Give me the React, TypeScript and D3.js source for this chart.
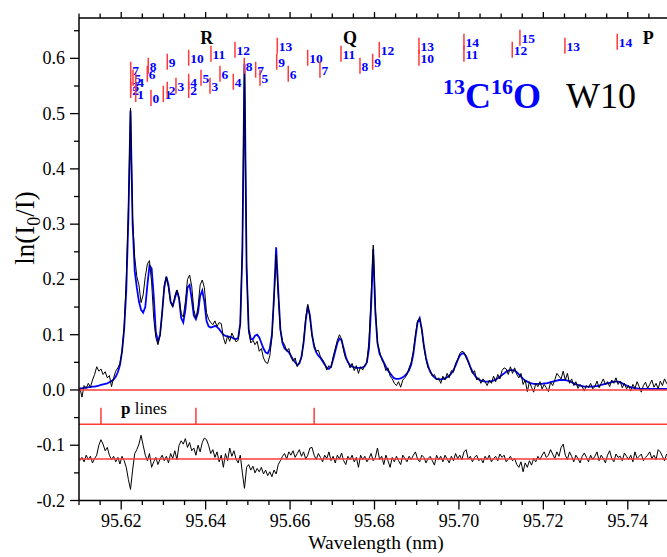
import React from 'react';
import * as d3 from 'd3';

// sample grid of the spectra (nm)
const gridStart = 95.6102;
const gridStep = 0.0005;

// measured absorbance ln(I0/I)
const observed = [
  0.004, -0.013, 0.008, 0.003, 0.012, 0.005, 0.018, 0.028, 0.042, 0.034,
  0.038, 0.028, 0.033, 0.022, 0.026, 0.006, 0.022, 0.034, 0.040, 0.048,
  0.07, 0.115, 0.20, 0.33, 0.51, 0.31, 0.24, 0.205, 0.19, 0.158,
  0.172, 0.205, 0.228, 0.234, 0.195, 0.13, 0.095, 0.082, 0.098, 0.14,
  0.19, 0.205, 0.185, 0.158, 0.15, 0.17, 0.181, 0.168, 0.138, 0.132,
  0.16, 0.2, 0.208, 0.188, 0.145, 0.13, 0.15, 0.19, 0.199, 0.185,
  0.14, 0.128, 0.122, 0.118, 0.125, 0.115, 0.122, 0.12, 0.095, 0.083,
  0.098, 0.088, 0.103, 0.095, 0.087, 0.09, 0.12, 0.26, 0.595, 0.23,
  0.105, 0.085, 0.09, 0.082, 0.088, 0.07, 0.075, 0.058, 0.05, 0.048,
  0.062, 0.095, 0.165, 0.245, 0.17, 0.108, 0.088, 0.082, 0.07, 0.075,
  0.06, 0.052, 0.058, 0.042, 0.05, 0.058, 0.088, 0.13, 0.155, 0.13,
  0.098, 0.082, 0.07, 0.072, 0.06, 0.055, 0.048, 0.036, 0.044, 0.04,
  0.06, 0.075, 0.09, 0.1, 0.092, 0.07, 0.056, 0.052, 0.04, 0.048,
  0.035, 0.044, 0.03, 0.042, 0.036, 0.045, 0.05, 0.09, 0.17, 0.262,
  0.15, 0.085, 0.07, 0.055, 0.048, 0.035, 0.04, 0.025, 0.02, 0.012,
  0.008, 0.015, 0.005, 0.018, 0.022, 0.028, 0.04, 0.05, 0.07, 0.1,
  0.125, 0.13, 0.108, 0.078, 0.055, 0.04, 0.035, 0.025, 0.028, 0.018,
  0.022, 0.012, 0.025, 0.018, 0.03, 0.022, 0.035, 0.032, 0.048, 0.055,
  0.066, 0.07, 0.068, 0.058, 0.05, 0.04, 0.03, 0.035, 0.018, 0.022,
  0.012, 0.02, 0.015, 0.008, 0.018, 0.012, 0.025, 0.015, 0.028, 0.02,
  0.035, 0.04, 0.038, 0.028, 0.042, 0.03, 0.04, 0.028, 0.022, 0.03,
  0.01, 0.018, -0.003, 0.015, 0.005, -0.004, 0.012, 0.006, 0.015, 0.002,
  0.01, 0.004, -0.003, 0.014, 0.008, 0.018, 0.03, 0.025, 0.02, 0.034,
  0.018, 0.03, 0.012, 0.02, 0.008, 0.015, 0.003, 0.01, 0.006, -0.002,
  0.008, 0.004, 0.012, 0.002, 0.006, 0.016, 0.004, 0.012, 0.02, 0.01,
  0.015, 0.006, 0.018, 0.012, 0.022, 0.01, 0.016, 0.004, 0.012, 0.002,
  0.008, -0.002, 0.01, 0.003, 0.015, 0.006, -0.004, 0.008, 0.014, 0.003,
  0.01, 0.018, 0.005, 0.012, 0.002, 0.016, 0.008, 0.02, 0.012, 0.006,
];

// simulated (fitted) spectrum
const fitted = [
  0.003, 0.003, 0.004, 0.004, 0.005, 0.005, 0.006, 0.006, 0.007, 0.008,
  0.009, 0.010, 0.011, 0.012, 0.014, 0.016, 0.019, 0.024, 0.032, 0.045,
  0.07, 0.11, 0.18, 0.31, 0.505, 0.30, 0.215, 0.185, 0.16, 0.145,
  0.14, 0.15, 0.19, 0.225, 0.22, 0.17, 0.105, 0.088, 0.10, 0.14,
  0.185, 0.205, 0.19, 0.16, 0.152, 0.165, 0.18, 0.165, 0.13, 0.122,
  0.145, 0.185, 0.19, 0.165, 0.135, 0.128, 0.14, 0.17, 0.18, 0.16,
  0.125, 0.115, 0.113, 0.114, 0.116, 0.114, 0.11, 0.105, 0.10, 0.098,
  0.097, 0.096, 0.095, 0.093, 0.092, 0.094, 0.12, 0.25, 0.59, 0.22,
  0.11, 0.092, 0.092, 0.098, 0.10, 0.095, 0.085, 0.075, 0.068, 0.066,
  0.075, 0.10, 0.17, 0.258, 0.18, 0.11, 0.085, 0.075, 0.072, 0.068,
  0.062, 0.055, 0.05, 0.045, 0.048, 0.06, 0.085, 0.125, 0.152, 0.135,
  0.10, 0.078, 0.068, 0.062, 0.058, 0.052, 0.046, 0.04, 0.038, 0.042,
  0.055, 0.07, 0.085, 0.093, 0.09, 0.075, 0.06, 0.05, 0.045, 0.042,
  0.041, 0.04, 0.04, 0.04, 0.041, 0.043, 0.05, 0.075, 0.15, 0.255,
  0.14, 0.085, 0.065, 0.058, 0.05, 0.042, 0.035, 0.03, 0.025, 0.021,
  0.02, 0.02, 0.021, 0.023, 0.026, 0.03, 0.036, 0.046, 0.065, 0.095,
  0.122, 0.13, 0.11, 0.08, 0.058, 0.043, 0.033, 0.027, 0.023, 0.02,
  0.019, 0.019, 0.02, 0.021, 0.023, 0.026, 0.03, 0.036, 0.044, 0.054,
  0.062, 0.066, 0.066, 0.061, 0.052, 0.042, 0.033, 0.027, 0.022, 0.019,
  0.017, 0.016, 0.015, 0.015, 0.015, 0.016, 0.017, 0.019, 0.021, 0.024,
  0.027, 0.03, 0.033, 0.035, 0.036, 0.036, 0.035, 0.032, 0.028, 0.024,
  0.02, 0.017, 0.015, 0.013, 0.012, 0.011, 0.011, 0.011, 0.011, 0.011,
  0.012, 0.012, 0.013, 0.014, 0.015, 0.016, 0.017, 0.018, 0.018, 0.018,
  0.018, 0.017, 0.016, 0.014, 0.012, 0.01, 0.009, 0.008, 0.007, 0.006,
  0.006, 0.006, 0.006, 0.006, 0.007, 0.007, 0.008, 0.009, 0.01, 0.011,
  0.012, 0.013, 0.014, 0.015, 0.015, 0.015, 0.014, 0.012, 0.01, 0.008,
  0.006, 0.005, 0.004, 0.003, 0.003, 0.002, 0.002, 0.002, 0.002, 0.002,
  0.002, 0.002, 0.002, 0.002, 0.002, 0.002, 0.002, 0.002, 0.002, 0.002,
];

// residual (observed - fitted), plotted with its offset
const residual = [
  -0.128, -0.122, -0.13, -0.118, -0.126, -0.12, -0.132, -0.124, -0.118, -0.1,
  -0.09, -0.098, -0.11, -0.104, -0.118, -0.126, -0.12, -0.13, -0.122, -0.134,
  -0.12, -0.128, -0.14, -0.162, -0.18, -0.145, -0.115, -0.108, -0.098, -0.082,
  -0.1, -0.118, -0.128, -0.115, -0.14, -0.13, -0.122, -0.135, -0.125, -0.118,
  -0.128, -0.12, -0.132, -0.115, -0.124, -0.11, -0.126, -0.1, -0.092, -0.098,
  -0.088, -0.104, -0.095, -0.11, -0.105, -0.118, -0.1, -0.112, -0.095, -0.087,
  -0.09, -0.1, -0.115, -0.108, -0.122, -0.112, -0.13, -0.118, -0.14, -0.115,
  -0.128, -0.105, -0.12, -0.11, -0.125, -0.132, -0.118, -0.15, -0.178, -0.14,
  -0.135, -0.145, -0.138, -0.15, -0.142, -0.148, -0.14, -0.152, -0.145, -0.155,
  -0.148, -0.157, -0.145, -0.152, -0.135, -0.128, -0.12, -0.115, -0.125, -0.112,
  -0.118, -0.11, -0.122, -0.115, -0.108, -0.12, -0.112, -0.125, -0.118, -0.105,
  -0.104, -0.118, -0.126, -0.115, -0.122, -0.13, -0.118, -0.124, -0.112, -0.128,
  -0.12, -0.132, -0.118, -0.125, -0.114, -0.128, -0.135, -0.12, -0.126, -0.118,
  -0.13, -0.122, -0.14, -0.118, -0.126, -0.12, -0.13, -0.124, -0.115, -0.128,
  -0.122, -0.105, -0.126, -0.12, -0.135, -0.118, -0.128, -0.14, -0.122, -0.13,
  -0.12, -0.128, -0.135, -0.118, -0.124, -0.13, -0.12, -0.126, -0.118, -0.112,
  -0.125, -0.13, -0.118, -0.122, -0.132, -0.124, -0.12, -0.128, -0.136, -0.118,
  -0.126, -0.12, -0.13, -0.118, -0.125, -0.132, -0.12, -0.128, -0.115, -0.124,
  -0.118, -0.126, -0.112, -0.108, -0.125, -0.12, -0.13, -0.122, -0.118, -0.128,
  -0.124, -0.132, -0.12, -0.126, -0.118, -0.13, -0.124, -0.12, -0.128, -0.116,
  -0.122, -0.118, -0.13, -0.125, -0.12, -0.128, -0.124, -0.135, -0.14, -0.13,
  -0.148, -0.132, -0.14, -0.128, -0.136, -0.124, -0.13, -0.12, -0.126, -0.118,
  -0.112, -0.122, -0.118, -0.108, -0.116, -0.124, -0.112, -0.12, -0.104, -0.098,
  -0.118, -0.126, -0.112, -0.12, -0.13, -0.118, -0.124, -0.132, -0.12, -0.114,
  -0.122, -0.13, -0.118, -0.126, -0.12, -0.112, -0.128, -0.118, -0.124, -0.132,
  -0.118, -0.11, -0.124, -0.13, -0.116, -0.122, -0.12, -0.128, -0.114, -0.12,
  -0.126, -0.118, -0.13, -0.112, -0.124, -0.12, -0.116, -0.128, -0.122, -0.118,
  -0.112, -0.124, -0.118, -0.126, -0.108, -0.112, -0.12, -0.128, -0.116, -0.122,
];

// reference baselines
const zeroLevel = 0.0;
const pLineLevel = -0.062;
const residualLevel = -0.125;

// perturbing p lines (nm)
const pLineWl = [95.6152, 95.6377, 95.6657];

// rotational line assignments: wavelength (nm) and J
const assignWl = [
  95.62225, 95.62225, 95.62225, 95.62279, 95.62343, 95.62343, 95.62641, 95.62618, 95.62705,
  95.62997, 95.63091, 95.63091, 95.63297, 95.63598, 95.63598, 95.63598, 95.6389, 95.64126,
  95.64103, 95.6434, 95.64655, 95.64695, 95.64915, 95.65185, 95.65287, 95.65697, 95.65683,
  95.65957, 95.66417, 95.66708, 95.67206, 95.67656, 95.67956, 95.68113, 95.69053, 95.69053,
  95.70119, 95.70119, 95.71263, 95.71445, 95.72511, 95.7375,
];
const assignJ = [
  7, 3, 2, 5, 4, 1, 8, 6, 0,
  1, 9, 2, 3, 10, 4, 2, 5, 11,
  3, 6, 4, 12, 8, 7, 5, 13, 9,
  6, 10, 7, 11, 8, 9, 12, 13, 10,
  14, 11, 12, 15, 13, 14,
];

const branchNames = ['R', 'Q', 'P'];
const branchWl = [95.64025, 95.67419, 95.74484];

const xTickLabels = ['95.62', '95.64', '95.66', '95.68', '95.70', '95.72', '95.74'];
const yTickLabels = ['-0.2', '-0.1', '0.0', '0.1', '0.2', '0.3', '0.4', '0.5', '0.6'];

const SERIF = "'Liberation Serif', 'Times New Roman', serif";
const RED = '#ff3a3a';
const BLUE = '#0000ff';

export default function App() {
  const W = 667;
  const H = 557;
  const left = 79;
  const top = 18;
  const bottom = 500.5;
  const x = d3.scaleLinear().domain([95.61, 95.75]).range([left, 670]);
  const y = d3.scaleLinear().domain([-0.2, 0.673]).range([bottom, top]);
  const wl = (i: number) => gridStart + gridStep * i;

  const lineGen = d3
    .line<number>()
    .x((_, i) => x(wl(i)))
    .y((d) => y(d));

  const xMinor = d3.range(0, 29).map((k) => 95.61 + k * 0.005);
  const yMinor = d3.range(0, 18).map((k) => -0.2 + k * 0.05);

  // label centre height for a given J (layout only)
  const jCentre = (j: number) => 0.5285 + 0.00724 * j;

  return (
    <svg
      width={W}
      height={H}
      style={{ position: 'absolute', left: 0, top: 0, background: '#fff' }}
      fontFamily={SERIF}
    >
      <defs>
        <clipPath id="plotClip">
          <rect x={left} y={top} width={W - left} height={bottom - top} />
        </clipPath>
      </defs>

      <g clipPath="url(#plotClip)">
        <path d={lineGen(fitted) || ''} fill="none" stroke={BLUE} strokeWidth={1.8} />
        <path d={lineGen(observed) || ''} fill="none" stroke="#000" strokeWidth={1} />
        <path d={lineGen(residual) || ''} fill="none" stroke="#000" strokeWidth={1} />

        {[zeroLevel, pLineLevel, residualLevel].map((v, k) => (
          <line key={k} x1={left} x2={W} y1={y(v)} y2={y(v)} stroke={RED} strokeWidth={1.5} />
        ))}
        {pLineWl.map((w, k) => (
          <line
            key={k}
            x1={x(w)}
            x2={x(w)}
            y1={y(pLineLevel)}
            y2={y(pLineLevel + 0.03)}
            stroke={RED}
            strokeWidth={1.5}
          />
        ))}

        {assignWl.map((w, k) => {
          const c = jCentre(assignJ[k]);
          return (
            <g key={k}>
              <line
                x1={x(w)}
                x2={x(w)}
                y1={y(c - 0.0145)}
                y2={y(c + 0.0145)}
                stroke={RED}
                strokeWidth={1.5}
              />
              <text
                x={x(w) + 1.5}
                y={y(c) + 5}
                fontSize={13.5}
                fontWeight="bold"
                fill={BLUE}
              >
                {assignJ[k]}
              </text>
            </g>
          );
        })}
      </g>

      {branchNames.map((b, k) => (
        <text
          key={b}
          x={x(branchWl[k])}
          y={43.5}
          fontSize={18}
          fontWeight="bold"
          textAnchor="middle"
          fill="#000"
        >
          {b}
        </text>
      ))}

      <text x={443} y={108} fill={BLUE} fontWeight="bold" fontSize={36}>
        <tspan fontSize={22} dy={-14}>13</tspan>
        <tspan dy={14}>C</tspan>
        <tspan fontSize={22} dy={-14}>16</tspan>
        <tspan dy={14}>O</tspan>
      </text>
      <text x={566} y={108} fill="#000" fontSize={36}>
        W10
      </text>

      <text x={121} y={414} fontSize={17} fill="#000">
        <tspan fontWeight="bold">p</tspan>
        <tspan> lines</tspan>
      </text>

      <line x1={left} x2={left} y1={top} y2={bottom} stroke="#000" strokeWidth={1.5} />
      <line x1={left} x2={W} y1={bottom} y2={bottom} stroke="#000" strokeWidth={1.5} />
      <line x1={left} x2={W} y1={top} y2={top} stroke="#000" strokeWidth={1.5} />

      {xMinor.map((v, k) => {
        const major = k % 4 === 2;
        return (
          <g key={k}>
            <line
              x1={x(v)}
              x2={x(v)}
              y1={bottom}
              y2={bottom + (major ? 9 : 4.5)}
              stroke="#000"
              strokeWidth={1.3}
            />
            <line
              x1={x(v)}
              x2={x(v)}
              y1={top}
              y2={top - (major ? 6 : 4.5)}
              stroke="#000"
              strokeWidth={1.3}
            />
          </g>
        );
      })}
      {xTickLabels.map((t) => (
        <text key={t} x={x(parseFloat(t))} y={527} fontSize={18} textAnchor="middle" fill="#000">
          {t}
        </text>
      ))}

      {yMinor.map((v, k) => (
        <line
          key={k}
          x1={left}
          x2={left - (k % 2 === 0 ? 9 : 5)}
          y1={y(v)}
          y2={y(v)}
          stroke="#000"
          strokeWidth={1.3}
        />
      ))}
      {yTickLabels.map((t) => (
        <text key={t} x={65} y={y(parseFloat(t)) + 6} fontSize={18} textAnchor="end" fill="#000">
          {t}
        </text>
      ))}

      <text x={376} y={549} fontSize={19.5} textAnchor="middle" fill="#000">
        Wavelength (nm)
      </text>
      <text
        transform="translate(34,228) rotate(-90)"
        fontSize={27}
        textAnchor="middle"
        fill="#000"
      >
        ln(I
        <tspan fontSize={18} dy={6}>0</tspan>
        <tspan dy={-6}>/I)</tspan>
      </text>
    </svg>
  );
}
